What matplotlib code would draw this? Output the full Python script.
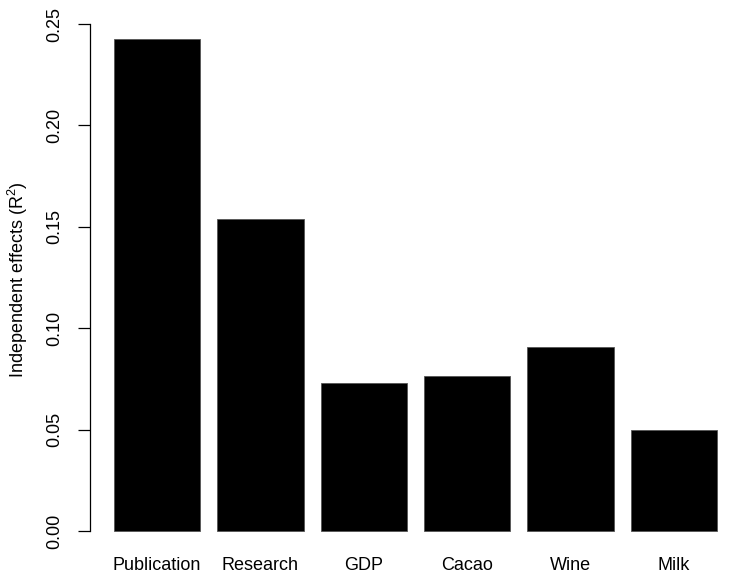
import matplotlib.pyplot as plt

# independent effects
predictors = ["Publication", "Research", "GDP", "Cacao", "Wine", "Milk"]
effects = [0.2425, 0.1538, 0.0730, 0.0764, 0.0907, 0.0498]
yticks = [0.00, 0.05, 0.10, 0.15, 0.20, 0.25]

plt.rcParams["font.family"] = ["Liberation Sans", "DejaVu Sans"]
plt.rcParams["mathtext.default"] = "regular"

fig = plt.figure(figsize=(7.34, 5.78), dpi=100)
ax = fig.add_axes([0, 0, 1, 1])
ax.patch.set_alpha(0)

# R-style barplot positions: width 1, space 0.2
centers = [0.7 + 1.2 * i for i in range(len(effects))]
ax.bar(centers, effects, width=1.0, color="black", edgecolor="#555555", linewidth=0.6)

# map data to pixels like the reference (R barplot)
ppu_x = 603 / 7.0
ax.set_xlim(0.2 - 114 / ppu_x, 7.2 + 17 / ppu_x)
ppu_y = 2028.0
ax.set_ylim(-47 / ppu_y, 531 / ppu_y)

for s in ["top", "right", "bottom"]:
    ax.spines[s].set_visible(False)
ax.spines["left"].set_position(("data", 0.2 - 24 / ppu_x))
ax.spines["left"].set_bounds(0, 0.25)
ax.spines["left"].set_linewidth(0.9)

ax.set_yticks(yticks)
ax.set_yticklabels(["%.2f" % v for v in yticks], rotation=90, va="center", fontsize=13)
ax.tick_params(axis="y", length=8.6, width=0.9, pad=11)

ax.set_xticks([])
# bar names sit a fixed distance under the zero line
for c, name in zip(centers, predictors):
    ax.text(c, -34 / ppu_y, name, ha="center", va="center", fontsize=13)

fig.text(18 / 734, 1 - 280 / 578, "Independent effects (R$^2$)", rotation=90,
         ha="center", va="center", fontsize=13)

fig.savefig("out.png", dpi=100)
